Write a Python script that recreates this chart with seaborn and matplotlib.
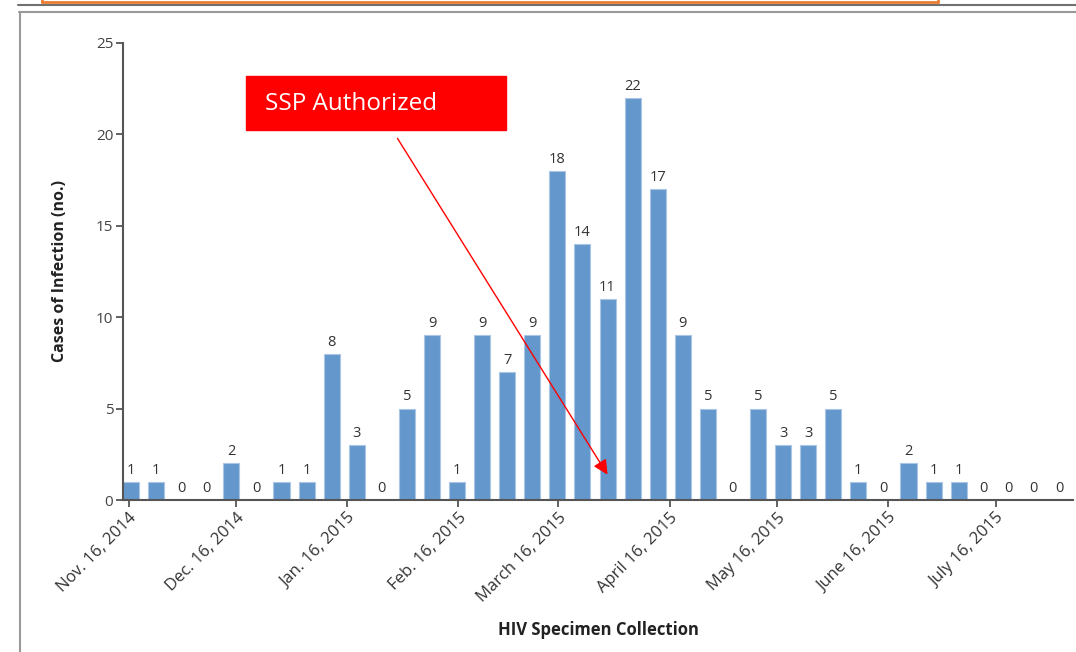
import matplotlib
matplotlib.use('Agg')
import matplotlib.pyplot as plt
import matplotlib.lines as mlines
import matplotlib.patches as mpatches
import pandas as pd
import seaborn as sns
from datetime import date

# Casos semanais de infecção (rótulos)
semanas = list(range(38))
casos = [1, 1, 0, 0, 2, 0, 1, 1, 8, 3, 0, 5, 9, 1, 9, 7, 9, 18, 14, 11,
         22, 17, 9, 5, 0, 5, 3, 3, 5, 1, 0, 2, 1, 1, 0, 0, 0, 0]

inicio = date(2014, 11, 16)
datas_ticks = [date(2014, 11, 16), date(2014, 12, 16), date(2015, 1, 16), date(2015, 2, 16),
               date(2015, 3, 16), date(2015, 4, 16), date(2015, 5, 16), date(2015, 6, 16),
               date(2015, 7, 16)]
rotulos_ticks = ['Nov. 16, 2014', 'Dec. 16, 2014', 'Jan. 16, 2015', 'Feb. 16, 2015',
                 'March 16, 2015', 'April 16, 2015', 'May 16, 2015', 'June 16, 2015',
                 'July 16, 2015']
y_ticks = [0, 5, 10, 15, 20, 25]

df = pd.DataFrame({'semana': semanas, 'casos': casos})

sns.set_style('white')
plt.rcParams['font.family'] = ['Open Sans', 'DejaVu Sans']
cor_eixo = '#555555'

fig = plt.figure(figsize=(10.76, 6.52), dpi=100)
ax = fig.add_axes([123 / 1076, 1 - 500 / 652, (1073 - 123) / 1076, (500 - 43) / 652])

sns.barplot(x='semana', y='casos', data=df, color='#6497CB', width=0.64,
            edgecolor='#A9C6E6', linewidth=0.8, saturation=1, ax=ax)

# rótulos de valor acima das barras
for p, v in zip(ax.patches, casos):
    ax.annotate(str(v), (p.get_x() + p.get_width() / 2, p.get_height()),
                xytext=(0, 3), textcoords='offset points',
                ha='center', va='bottom', fontsize=10.5, color='#333333')

ax.set_xlim(-0.32, 37.56)
ax.set_ylim(0, 25)
ax.set_yticks(y_ticks)
ax.set_yticklabels([str(t) for t in y_ticks], fontsize=11, color='#444444')

# posição das datas no eixo semanal
pos = [(d - inicio).days / 7 - 0.1 for d in datas_ticks]
ax.set_xticks(pos)
ax.set_xticklabels(rotulos_ticks, rotation=45, ha='right', rotation_mode='anchor',
                   fontsize=12, color='#333333')

ax.tick_params(axis='both', direction='out', length=5, width=1.3, color=cor_eixo,
               bottom=True, left=True, pad=2)
for s in ['top', 'right']:
    ax.spines[s].set_visible(False)
for s in ['left', 'bottom']:
    ax.spines[s].set_color(cor_eixo)
    ax.spines[s].set_linewidth(1.5)

ax.set_xlabel('HIV Specimen Collection', fontsize=12, fontweight='bold', color='#222222')
ax.set_ylabel('Cases of Infection (no.)', fontsize=11.5, fontweight='bold', color='#222222')
ax.xaxis.set_label_coords(0.5, -0.265)
ax.yaxis.set_label_coords(-0.058, 0.5)

# caixa "SSP Authorized" e seta
fig.patches.append(mpatches.Rectangle((246 / 1076, 1 - 130 / 652), 260 / 1076, 54 / 652,
                                      transform=fig.transFigure, color='#FF0000', zorder=5))
fig.text(265 / 1076, 1 - 104 / 652, 'SSP Authorized', color='white', fontsize=17.5,
         va='center', ha='left', zorder=6)
fig.add_artist(mpatches.FancyArrowPatch((396 / 1076, 1 - 136 / 652), (609 / 1076, 1 - 477 / 652),
                                        transform=fig.transFigure, arrowstyle='-|>',
                                        mutation_scale=22, color='#FF0000', linewidth=1,
                                        zorder=6))

# bordas da captura de tela
fig.add_artist(mlines.Line2D([42 / 1076, 938 / 1076], [1 - 1.5 / 652, 1 - 1.5 / 652],
                             transform=fig.transFigure, color='#ED7D31', linewidth=2))
for xo in [42, 938]:
    fig.add_artist(mlines.Line2D([xo / 1076, xo / 1076], [1 - 1.5 / 652, 1.0],
                                 transform=fig.transFigure, color='#ED7D31', linewidth=2))
fig.add_artist(mlines.Line2D([18 / 1076, 1.0], [1 - 5 / 652, 1 - 5 / 652],
                             transform=fig.transFigure, color='#707070', linewidth=1.5))
fig.add_artist(mlines.Line2D([19 / 1076, 1.0], [1 - 11.5 / 652, 1 - 11.5 / 652],
                             transform=fig.transFigure, color='#999999', linewidth=1.5))
fig.add_artist(mlines.Line2D([19.5 / 1076, 19.5 / 1076], [0, 1 - 11.5 / 652],
                             transform=fig.transFigure, color='#999999', linewidth=1.5))

fig.savefig('out.png', dpi=100)
